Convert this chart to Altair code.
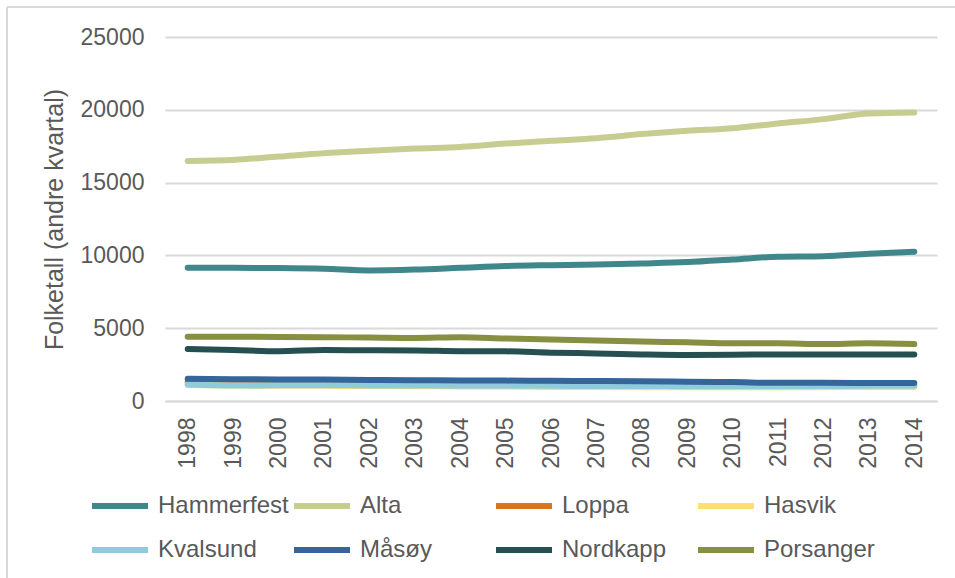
import altair as alt
import pandas as pd

# Population (second quarter) per municipality, 1998-2014
years = [str(y) for y in range(1998, 2015)]

hammerfest = [9150, 9150, 9130, 9080, 8970, 9030, 9150, 9270, 9330, 9380, 9450, 9540, 9720, 9910, 9950, 10120, 10250]
alta = [16490, 16560, 16790, 17020, 17180, 17340, 17450, 17680, 17870, 18050, 18330, 18560, 18740, 19060, 19360, 19750, 19820]
loppa = [1300, 1280, 1260, 1250, 1230, 1210, 1190, 1180, 1160, 1140, 1130, 1110, 1100, 1090, 1080, 1080, 1070]
hasvik = [1100, 1060, 1050, 1040, 1030, 1020, 1000, 990, 970, 960, 950, 950, 940, 950, 950, 960, 960]
kvalsund = [1140, 1060, 1080, 1080, 1070, 1060, 1050, 1050, 1040, 1030, 1030, 1020, 1020, 1020, 1030, 1040, 1040]
masoy = [1520, 1500, 1480, 1470, 1440, 1430, 1410, 1400, 1390, 1370, 1360, 1330, 1300, 1250, 1250, 1240, 1230]
nordkapp = [3570, 3500, 3420, 3500, 3480, 3470, 3420, 3410, 3320, 3270, 3200, 3160, 3180, 3200, 3200, 3190, 3200]
porsanger = [4410, 4410, 4400, 4380, 4360, 4330, 4380, 4300, 4230, 4160, 4090, 4030, 3960, 3960, 3910, 3970, 3910]

names = ["Hammerfest", "Alta", "Loppa", "Hasvik", "Kvalsund", "Måsøy", "Nordkapp", "Porsanger"]
series = [hammerfest, alta, loppa, hasvik, kvalsund, masoy, nordkapp, porsanger]
colors = ["#3F878B", "#C7CD90", "#D9751E", "#FDE06F", "#8ECBDD", "#35669B", "#264F52", "#878F42"]

rows = []
for name, vals in zip(names, series):
    for yr, v in zip(years, vals):
        rows.append({"År": yr, "Kommune": name, "Folketall": v})
df = pd.DataFrame(rows)

FONT = "Liberation Sans"
GREY = "#595959"

lines = alt.Chart(df).mark_line(strokeWidth=6, strokeCap="round", interpolate="monotone").encode(
    x=alt.X(
        "År:O",
        sort=years,
        scale=alt.Scale(type="point", padding=0.5),
        axis=alt.Axis(
            title=None,
            labelAngle=270,
            labelAlign="right",
            labelBaseline="middle",
            labelPadding=16,
            ticks=False,
            domainColor="#D9D9D9",
            domainWidth=2,
            labelFontSize=23,
        ),
    ),
    y=alt.Y(
        "Folketall:Q",
        scale=alt.Scale(domain=[0, 25000]),
        axis=alt.Axis(
            title="Folketall (andre kvartal)",
            values=[0, 5000, 10000, 15000, 20000, 25000],
            format="d",
            ticks=False,
            domain=False,
            gridColor="#D9D9D9",
            gridWidth=2,
            labelPadding=21,
            labelFontSize=23,
            titleFontSize=25,
            titleFontWeight="normal",
            titleColor=GREY,
            titlePadding=13,
        ),
    ),
    color=alt.Color(
        "Kommune:N",
        sort=names,
        scale=alt.Scale(domain=names, range=colors),
        legend=alt.Legend(
            title=None,
            orient="none",
            legendX=-76,
            legendY=458,
            direction="horizontal",
            columns=4,
            gridAlign="all",
            columnPadding=2,
            rowPadding=20,
            clipHeight=22,
            symbolType="stroke",
            symbolSize=3136,
            symbolStrokeWidth=6,
            labelFontSize=24,
            labelOffset=7,
            labelColor=GREY,
            labelFont=FONT,
            padding=0,
        ),
    ),
)

# Thin outer frame on the left and top edges
frame_left = alt.Chart().mark_rule(color="#D9D9D9", strokeWidth=2).encode(
    x=alt.value(-158), y=alt.value(-30), y2=alt.value(560)
)
frame_top = alt.Chart().mark_rule(color="#D9D9D9", strokeWidth=2).encode(
    x=alt.value(-158), x2=alt.value(800), y=alt.value(-30)
)

chart = (
    alt.layer(frame_left, frame_top, lines)
    .properties(
        width=772,
        height=364,
        autosize=alt.AutoSizeParams(type="none"),
        padding={"left": 165, "top": 37, "right": 18, "bottom": 177},
        background="white",
    )
    .configure_view(stroke=None)
    .configure_axis(labelFont=FONT, titleFont=FONT, labelColor=GREY)
)

chart.save("out.html", embed_options={"renderer": "svg", "actions": False})
